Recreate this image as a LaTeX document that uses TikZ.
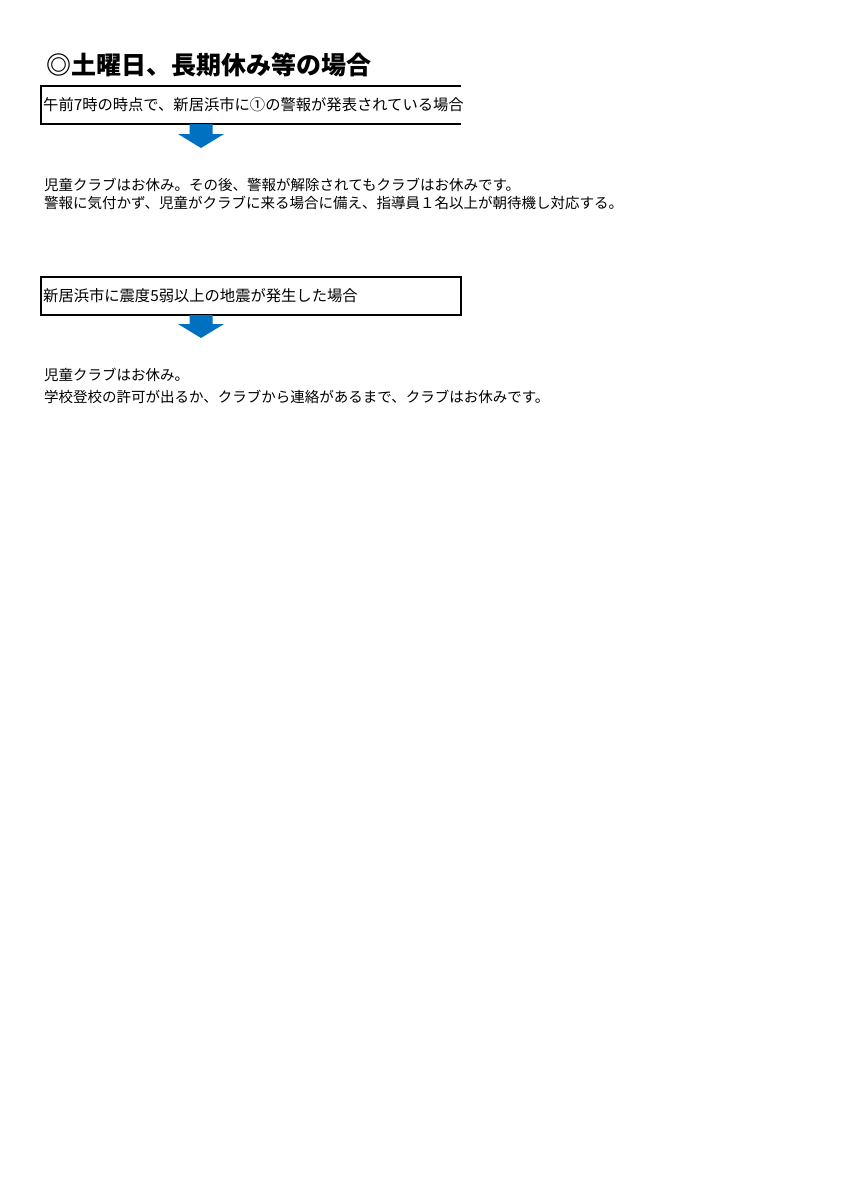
\documentclass[tikz,border=0pt]{standalone}
\usepackage{fontspec}
\newfontfamily\jp{Noto Sans CJK JP}
\usepackage{tikz}

\begin{document}
\begin{tikzpicture}[x=1pt,y=-1pt,
  txt/.style={anchor=west, inner sep=0pt, align=left, font=\jp\fontsize{14.5}{18}\selectfont},
  casetxt/.style={txt, font=\jp\fontsize{15.3}{18}\selectfont},
  casebox/.style={minimum width=420pt, minimum height=38pt, inner sep=0pt},
  downarrow/.style={fill={rgb,255:red,0;green,112;blue,192}, draw=none}]

\useasboundingbox (0,0) rectangle (849,1200);

\node[anchor=west, inner sep=0pt, font=\jp\bfseries\fontsize{25}{28}\selectfont] (title) at (46,65) {◎土曜日、長期休み等の場合};

% first case, open at the right side
\node[casebox] (box1) at (251,105) {};
\node[casetxt] (case1) at (43,105) {午前7時の時点で、新居浜市に①の警報が発表されている場合};
\draw[line width=1.5pt] (box1.north east) -- (box1.north west) -- (box1.south west) -- (box1.south east);

\coordinate (a1) at (201,124);
\fill[downarrow] (a1) ++(-11.5,0) -- ++(0,10) -- ++(-11.5,0) -- ++(23,14) -- ++(23,-14) -- ++(-11.5,0) -- ++(0,-10) -- cycle;

\node[txt] (res1) at (44,194) {児童クラブはお休み。その後、警報が解除されてもクラブはお休みです。\\
警報に気付かず、児童がクラブに来る場合に備え、指導員１名以上が朝待機し対応する。};

% second case
\node[casebox, draw, line width=1.5pt] (box2) at (251,296) {};
\node[casetxt] (case2) at (43,296) {新居浜市に震度5弱以上の地震が発生した場合};

\coordinate (a2) at (201,315);
\fill[downarrow] (a2) ++(-11.5,0) -- ++(0,9) -- ++(-11.5,0) -- ++(23,14) -- ++(23,-14) -- ++(-11.5,0) -- ++(0,-9) -- cycle;

\node[txt, font=\jp\fontsize{14.5}{22}\selectfont] (res2) at (44,386) {児童クラブはお休み。\\
学校登校の許可が出るか、クラブから連絡があるまで、クラブはお休みです。};

\end{tikzpicture}
\end{document}
